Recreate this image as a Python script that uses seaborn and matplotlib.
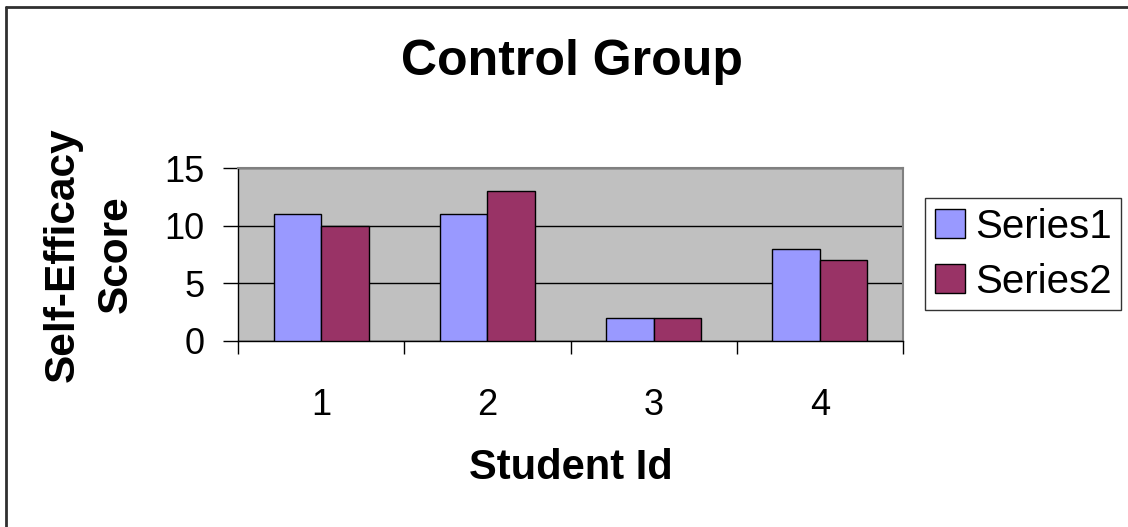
import pandas as pd
import matplotlib
matplotlib.use("Agg")
import matplotlib.pyplot as plt
from matplotlib.lines import Line2D
import seaborn as sns

# data
student_ids = ["1", "2", "3", "4"]
series1 = [11, 11, 2, 8]
series2 = [10, 13, 2, 7]
series_names = ["Series1", "Series2"]
y_ticks = [0, 5, 10, 15]

df = pd.DataFrame({
    "student": student_ids * 2,
    "score": series1 + series2,
    "series": [series_names[0]] * 4 + [series_names[1]] * 4,
})

sns.set_style("white")
plt.rcParams["font.family"] = ["Liberation Sans", "DejaVu Sans"]
plt.rcParams["text.color"] = "black"
plt.rcParams["axes.labelcolor"] = "black"
plt.rcParams["xtick.color"] = "black"
plt.rcParams["ytick.color"] = "black"

fig = plt.figure(figsize=(11.28, 5.27), dpi=100)
ax = fig.add_axes([238 / 1128, 1 - 341 / 527, 665 / 1128, 173 / 527])
ax.set_facecolor("#C0C0C0")

sns.barplot(data=df, x="student", y="score", hue="series",
            palette=["#9999FF", "#993366"], saturation=1, width=0.572, gap=0,
            edgecolor="black", linewidth=1, ax=ax, zorder=3)

ax.set_ylim(0, 15)
ax.set_xlim(-0.5, 3.5)
ax.set_yticks(y_ticks)
ax.set_yticklabels([str(t) for t in y_ticks], fontsize=26)
ax.yaxis.grid(True, color="black", linewidth=1)
ax.set_axisbelow(True)

# category labels at centres, tick marks at the boundaries
ax.set_xticks(range(4))
ax.set_xticklabels(student_ids, fontsize=26)
ax.set_xticks([-0.5, 0.5, 1.5, 2.5, 3.5], minor=True)
ax.tick_params(axis="x", which="major", bottom=True, length=0, pad=34)
ax.tick_params(axis="x", which="minor", bottom=True, length=9, width=1,
               color="black", direction="out")
ax.tick_params(axis="y", left=True, length=11, width=1, color="black",
               direction="out", pad=13)

for side in ["left", "bottom"]:
    ax.spines[side].set_color("black")
    ax.spines[side].set_linewidth(1)
for side in ["top", "right"]:
    ax.spines[side].set_color("#808080")
    ax.spines[side].set_linewidth(1.5)

ax.set_xlabel("Student Id", fontsize=30, fontweight="bold", labelpad=18)
ax.set_ylabel("Self-Efficacy\nScore", fontsize=30.5, fontweight="bold", labelpad=21,
              linespacing=1.4)
fig.text(572 / 1128, 1 - 62 / 527, "Control Group", fontsize=36, fontweight="bold",
         ha="center", va="center")

ax.get_legend().remove()
handles = [plt.Rectangle((0, 0), 1, 1, facecolor=c, edgecolor="black", linewidth=1)
           for c in ["#9999FF", "#993366"]]
leg = fig.legend(handles, series_names, loc="upper left",
                 bbox_to_anchor=(925 / 1128, 1 - 198 / 527), fontsize=29,
                 frameon=True, fancybox=False, edgecolor="black",
                 handlelength=0.75, handleheight=0.75, handletextpad=0.25,
                 borderpad=0.24, labelspacing=0.42, borderaxespad=0)
leg.get_frame().set_linewidth(1)

# outer chart border (top and left visible)
fig.add_artist(Line2D([6 / 1128, 1], [1 - 7 / 527, 1 - 7 / 527], color="#303030", linewidth=2))
fig.add_artist(Line2D([6 / 1128, 6 / 1128], [0, 1 - 7 / 527], color="#303030", linewidth=2))

fig.savefig("out.png", dpi=100)
